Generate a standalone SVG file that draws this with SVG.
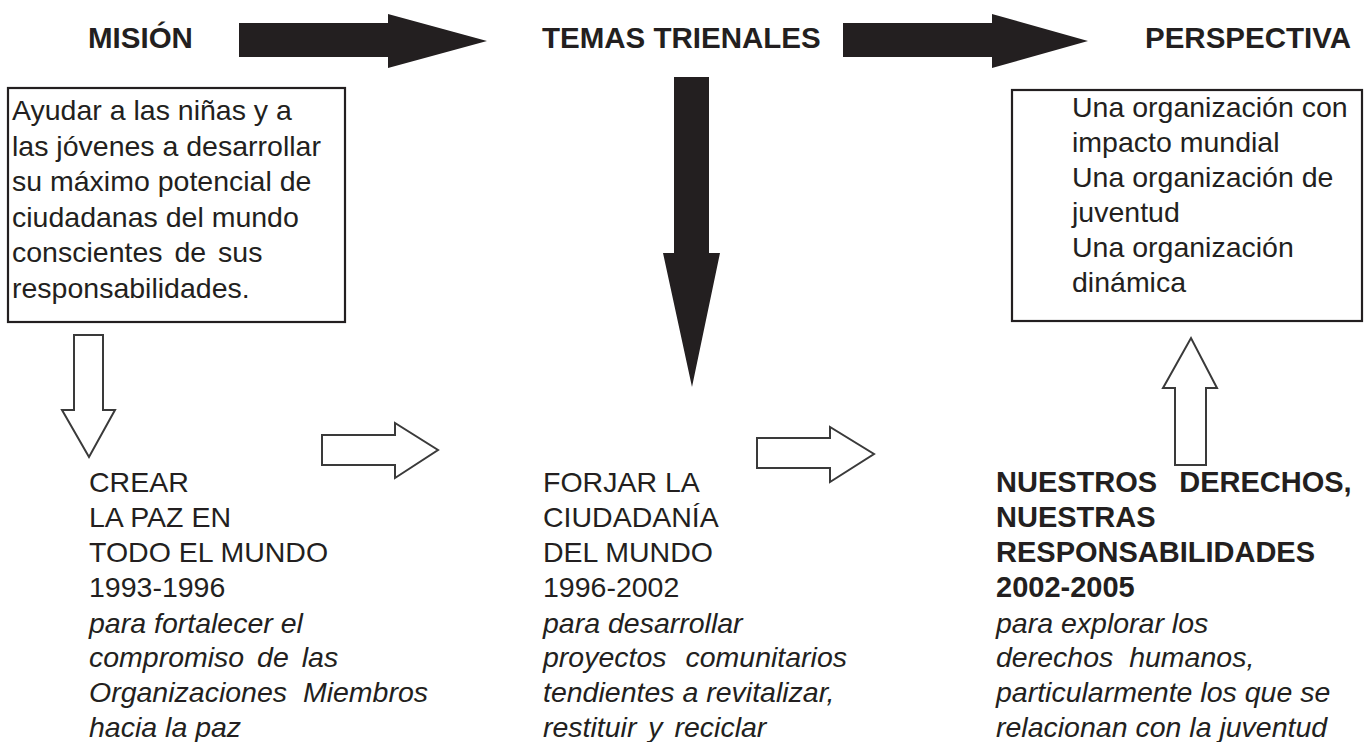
<svg xmlns="http://www.w3.org/2000/svg" width="1367" height="742" viewBox="0 0 1367 742">
<style>
text{font-family:"Liberation Sans",Arial,sans-serif;fill:#231f20;font-size:28.5px}
.h{font-weight:bold;font-size:29.5px}
.b{font-weight:bold;font-size:29px}
.i{font-style:italic}
.box{fill:#fff;stroke:#231f20;stroke-width:2.2}
.solid{fill:#231f20;stroke:none}
.hollow{fill:#fff;stroke:#3a3a3a;stroke-width:2;stroke-linejoin:miter}
</style>
<rect width="1367" height="742" fill="#fff"/>
<g id="connectors">
<polygon class="solid" points="239,23 388,23 388,14 487,41 388,68 388,57 239,57"/>
<polygon class="solid" points="843,23 992,23 992,14 1088,41 992,68 992,57 843,57"/>
<polygon class="solid" points="674,77 709,77 709,253 720,253 692,387 663,253 674,253"/>
<polygon class="hollow" points="74,335 103,335 103,410 115,410 89,457 62,410 74,410"/>
<polygon class="hollow" points="322,435 395,435 395,423 438,450 395,478 395,465 322,465"/>
<polygon class="hollow" points="757,438 830,438 830,427 874,454 830,482 830,468 757,468"/>
<polygon class="hollow" points="1175,465 1206,465 1206,388 1217,388 1191,338 1163,388 1175,388"/>
</g>
<g id="mision-title"><text class="h" x="88" y="48">MISIÓN</text></g>
<g id="temas-title"><text class="h" x="542" y="48">TEMAS TRIENALES</text></g>
<g id="perspectiva-title"><text class="h" x="1145" y="48">PERSPECTIVA</text></g>
<g id="mision-box">
<rect class="box" x="8" y="88" width="337" height="234"/>
<text x="12" y="120">Ayudar a las niñas y a</text>
<text x="12" y="155.5">las jóvenes a desarrollar</text>
<text x="12" y="191">su máximo potencial de</text>
<text x="12" y="226.5">ciudadanas del mundo</text>
<text x="12" y="262" word-spacing="4">conscientes de sus</text>
<text x="12" y="297.5">responsabilidades.</text>
</g>
<g id="perspectiva-box">
<rect class="box" x="1012" y="90" width="350" height="231"/>
<text x="1072" y="117">Una organización con</text>
<text x="1072" y="152">impacto mundial</text>
<text x="1072" y="187">Una organización de</text>
<text x="1072" y="222">juventud</text>
<text x="1072" y="257">Una organización</text>
<text x="1072" y="292">dinámica</text>
</g>
<g id="tema-1993">
<text x="89" y="492">CREAR</text>
<text x="89" y="527">LA PAZ EN</text>
<text x="89" y="562">TODO EL MUNDO</text>
<text x="89" y="597">1993-1996</text>
<text class="i" x="89" y="633">para fortalecer el</text>
<text class="i" x="89" y="667" word-spacing="5">compromiso de las</text>
<text class="i" x="89" y="702" word-spacing="8">Organizaciones Miembros</text>
<text class="i" x="89" y="737">hacia la paz</text>
</g>
<g id="tema-1996">
<text x="543" y="492">FORJAR LA</text>
<text x="543" y="527">CIUDADANÍA</text>
<text x="543" y="562">DEL MUNDO</text>
<text x="543" y="597">1996-2002</text>
<text class="i" x="543" y="633">para desarrollar</text>
<text class="i" x="543" y="667" word-spacing="11">proyectos comunitarios</text>
<text class="i" x="543" y="702">tendientes a revitalizar,</text>
<text class="i" x="543" y="737" word-spacing="4">restituir y reciclar</text>
</g>
<g id="tema-2002">
<text class="b" x="996" y="492" word-spacing="14">NUESTROS DERECHOS,</text>
<text class="b" x="996" y="527">NUESTRAS</text>
<text class="b" x="996" y="562">RESPONSABILIDADES</text>
<text class="b" x="996" y="597">2002-2005</text>
<text class="i" x="996" y="633">para explorar los</text>
<text class="i" x="996" y="667" word-spacing="8">derechos humanos,</text>
<text class="i" x="996" y="702">particularmente los que se</text>
<text class="i" x="996" y="737">relacionan con la juventud</text>
</g>
</svg>
